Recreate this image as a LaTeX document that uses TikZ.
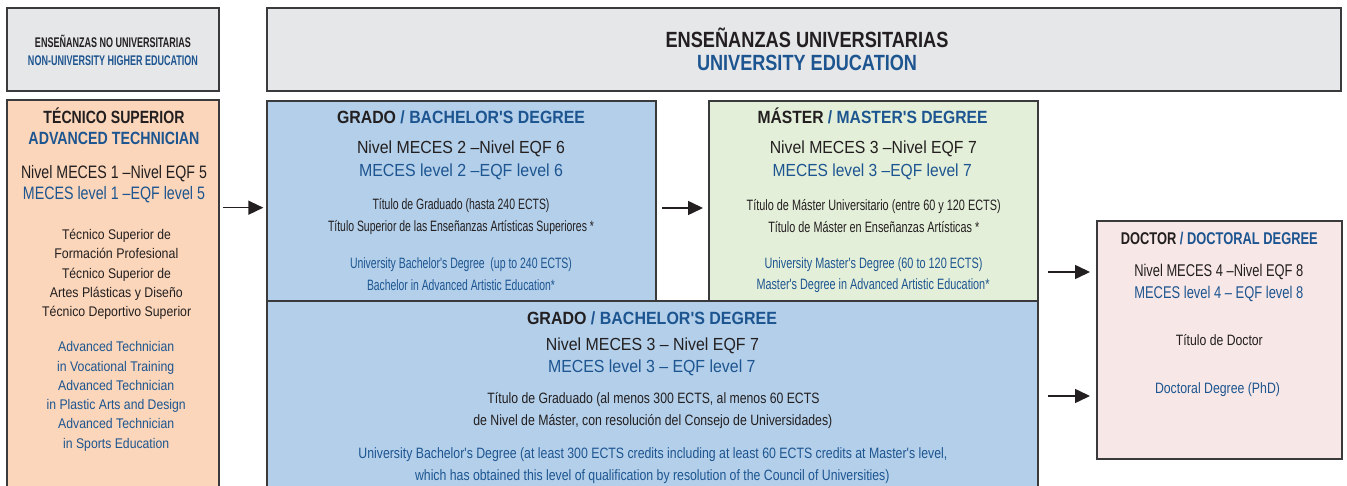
\documentclass[tikz,border=0pt]{standalone}
\usepackage{graphicx}
\usepackage{fontspec}
\setmainfont{Liberation Sans}
\usetikzlibrary{arrows.meta}
\definecolor{txt}{HTML}{231F20}
\definecolor{blu}{HTML}{1D5590}
\definecolor{bord}{HTML}{3A3A3C}
\definecolor{grayf}{HTML}{E6E7E9}
\definecolor{peach}{HTML}{FBD6BA}
\definecolor{bluef}{HTML}{B3CFEA}
\definecolor{greenf}{HTML}{E4EFD9}
\definecolor{pinkf}{HTML}{F7E7E6}
\newcommand{\tline}[6]{\node[txtline] (#1) at (#2,#3) {\resizebox{#4pt}{\height}{\fontsize{#5pt}{#5pt}\selectfont #6}};}
\newcommand{\ap}{\textquotesingle}
\tikzset{
  box/.style={draw=bord, line width=1.4pt, inner sep=0pt, outer sep=0pt, anchor=north west},
  txtline/.style={anchor=base, inner sep=0pt, outer sep=0pt, text=txt},
  arr/.style={draw=txt, line width=1.5pt, -{Triangle[length=15pt,width=14pt]}}
}
\begin{document}
\begin{tikzpicture}[x=1pt,y=-1pt]
\useasboundingbox (0,0) rectangle (1347,486);
\clip (0,0) rectangle (1347,486);
\fill[white] (0,0) rectangle (1347,486);
% boxes
\node[box, fill=grayf, minimum width=212pt, minimum height=83pt] (A) at (7,8) {};
\node[box, fill=grayf, minimum width=1074pt, minimum height=83pt] (B) at (267,8) {};
\node[box, fill=peach, minimum width=212pt, minimum height=430pt] (C) at (7,100) {};
\node[box, fill=bluef, minimum width=389pt, minimum height=200pt] (D) at (267,101) {};
\node[box, fill=greenf, minimum width=329pt, minimum height=200pt] (E) at (709,101) {};
\node[box, fill=bluef, minimum width=771pt, minimum height=230pt] (F) at (267,301) {};
\node[box, fill=pinkf, minimum width=245pt, minimum height=238pt] (G) at (1097,221) {};
% box A
\tline{a1}{113}{47.7}{156}{14}{\bfseries ENSEÑANZAS NO UNIVERSITARIAS}
\tline{a2}{113}{66}{170}{14}{\bfseries\color{blu}NON-UNIVERSITY HIGHER EDUCATION}
% box B
\tline{b1}{807}{47.7}{283}{22}{\bfseries ENSEÑANZAS UNIVERSITARIAS}
\tline{b2}{807}{71}{220}{22}{\bfseries\color{blu}UNIVERSITY EDUCATION}
% box C
\tline{c1}{114}{123.3}{141}{17.7}{\bfseries TÉCNICO SUPERIOR}
\tline{c2}{114}{145}{171}{17.7}{\bfseries\color{blu}ADVANCED TECHNICIAN}
\tline{c3}{114}{178.3}{186}{18}{Nivel MECES 1 –Nivel EQF 5}
\tline{c4}{114}{200}{182}{18}{\color{blu}MECES level 1 –EQF level 5}
\tline{c5}{116.5}{240}{109}{14}{Técnico Superior de}
\tline{c6}{116.3}{259}{124}{14}{Formación Profesional}
\tline{c7}{116.5}{278.3}{109}{14}{Técnico Superior de}
\tline{c8}{116.3}{297.3}{133}{14}{Artes Plásticas y Diseño}
\tline{c9}{116.7}{316.7}{149}{14}{Técnico Deportivo Superior}
\tline{c10}{116.2}{351.7}{116}{14}{\color{blu}Advanced Technician}
\tline{c11}{115.7}{371}{117}{14}{\color{blu}in Vocational Training}
\tline{c12}{116.2}{390}{116}{14}{\color{blu}Advanced Technician}
\tline{c13}{116.2}{409.3}{139}{14}{\color{blu}in Plastic Arts and Design}
\tline{c14}{116.2}{428.7}{116}{14}{\color{blu}Advanced Technician}
\tline{c15}{116.2}{448.3}{106}{14}{\color{blu}in Sports Education}
% box D
\tline{d1}{461}{123.3}{248}{17.7}{\bfseries GRADO {\color{blu}/ BACHELOR\ap S DEGREE}}
\tline{d2}{461}{154}{208}{17.5}{Nivel MECES 2 –Nivel EQF 6}
\tline{d3}{461}{176.7}{204}{17.5}{\color{blu}MECES level 2 –EQF level 6}
\tline{d4}{461}{210}{177}{15}{Título de Graduado (hasta 240 ECTS)}
\tline{d5}{461}{231.7}{266}{15}{Título Superior de las Enseñanzas Artísticas Superiores *}
\tline{d6}{461}{269}{222}{15}{\color{blu}University Bachelor\ap s Degree\ \ (up to 240 ECTS)}
\tline{d7}{461}{291}{188}{15}{\color{blu}Bachelor in Advanced Artistic Education*}
% box E
\tline{e1}{872.5}{123.3}{230}{17.7}{\bfseries MÁSTER {\color{blu}/ MASTER\ap S DEGREE}}
\tline{e2}{873.3}{154}{207}{17.5}{Nivel MECES 3 –Nivel EQF 7}
\tline{e3}{872.2}{176.7}{199}{17.5}{\color{blu}MECES level 3 –EQF level 7}
\tline{e4}{873.7}{210.7}{254}{15}{Título de Máster Universitario (entre 60 y 120 ECTS)}
\tline{e5}{873.8}{232.3}{211}{15}{Título de Máster en Enseñanzas Artísticas *}
\tline{e6}{873.5}{268.3}{218}{15}{\color{blu}University Master\ap s Degree (60 to 120 ECTS)}
\tline{e7}{873}{290}{233}{15}{\color{blu}Master\ap s Degree in Advanced Artistic Education*}
% box F
\tline{f1}{652}{324.3}{250}{17.7}{\bfseries GRADO {\color{blu}/ BACHELOR\ap S DEGREE}}
\tline{f2}{652.4}{351}{213}{17.5}{Nivel MECES 3 – Nivel EQF 7}
\tline{f3}{651.8}{372.7}{207.5}{17.5}{\color{blu}MECES level 3 – EQF level 7}
\tline{f4}{653.5}{403.3}{332}{15}{Título de Graduado (al menos 300 ECTS, al menos 60 ECTS}
\tline{f5}{652.9}{425}{359}{15}{de Nivel de Máster, con resolución del Consejo de Universidades)}
\tline{f6}{652.9}{458.3}{589}{15}{\color{blu}University Bachelor\ap s Degree (at least 300 ECTS credits including at least 60 ECTS credits at Master\ap s level,}
\tline{f7}{652.3}{480}{474.5}{15}{\color{blu}which has obtained this level of qualification by resolution of the Council of Universities)}
% box G
\tline{g1}{1219.3}{245}{197}{17}{\bfseries DOCTOR {\color{blu}/ DOCTORAL DEGREE}}
\tline{g2}{1218.8}{276.7}{169}{17}{Nivel MECES 4 –Nivel EQF 8}
\tline{g3}{1218.8}{298.3}{169}{17}{\color{blu}MECES level 4 – EQF level 8}
\tline{g4}{1219.3}{345}{87}{15}{Título de Doctor}
\tline{g5}{1217.5}{393.3}{125}{15}{\color{blu}Doctoral Degree (PhD)}
% arrows
\coordinate (y1) at (0,207.7);
\coordinate (y2) at (0,208);
\coordinate (y3) at (0,272);
\coordinate (y4) at (0,396);
\draw[arr, shorten <=3.7pt, shorten >=3.7pt] (C.east |- y1) -- (D.west |- y1);
\draw[arr, shorten <=6pt, shorten >=6pt] (D.east |- y2) -- (E.west |- y2);
\draw[arr, shorten <=10pt, shorten >=7pt] (E.east |- y3) -- (G.west |- y3);
\draw[arr, shorten <=10pt, shorten >=7pt] (F.east |- y4) -- (G.west |- y4);
\end{tikzpicture}
\end{document}
